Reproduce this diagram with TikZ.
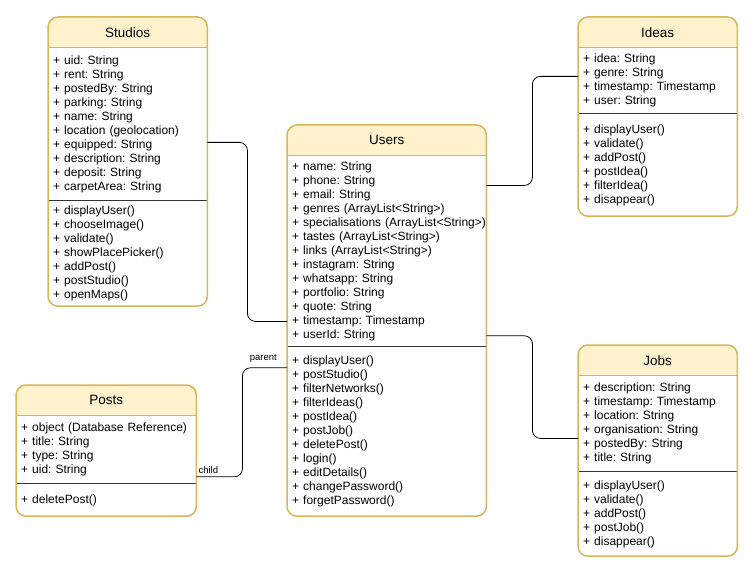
\documentclass[tikz,border=0pt]{standalone}
\usepackage{fontspec}
\setmainfont{Liberation Sans}
\usetikzlibrary{positioning, backgrounds}

\definecolor{umlline}{HTML}{D6B656}
\definecolor{umlfill}{HTML}{FFF2CC}

\begin{document}
\frenchspacing
\begin{tikzpicture}[
    x=1pt, y=-1pt,
    classhead/.style={rectangle, inner sep=0pt, minimum height=30pt,
                      font=\fontsize{13.5}{16}\selectfont},
    classbody/.style={rectangle, fill=white, align=left, inner xsep=5pt, inner ysep=0pt,
                      font=\fontsize{12}{14}\selectfont},
    frame/.style={draw=umlline, line width=1.5pt, rounded corners=10pt},
    headline/.style={draw=umlline, line width=1pt},
    sepline/.style={draw=black!80, line width=0.8pt},
    link/.style={draw=black, line width=0.8pt, rounded corners=8pt},
    rolelabel/.style={font=\fontsize{9.5}{11}\selectfont, inner sep=1pt, fill=white},
]
\useasboundingbox (0,0) rectangle (754,572);

% Studios
\node[classhead, minimum width=159pt, anchor=north west] (studiosH) at (48,17) {Studios};
\node[classbody, text width=149pt, minimum height=153pt, below=0pt of studiosH] (studiosA)
    {+ uid: String\\+ rent: String\\+ postedBy: String\\+ parking: String\\+ name: String\\
     + location (geolocation)\\+ equipped: String\\+ description: String\\+ deposit: String\\
     + carpetArea: String};
\node[classbody, text width=149pt, minimum height=105pt, below=0pt of studiosA] (studiosM)
    {+ displayUser()\\+ chooseImage()\\+ validate()\\+ showPlacePicker()\\+ addPost()\\
     + postStudio()\\+ openMaps()};

% Users
\node[classhead, minimum width=199pt, anchor=north west] (usersH) at (287,125) {Users};
\node[classbody, text width=189pt, minimum height=191pt, below=0pt of usersH] (usersA)
    {+ name: String\\+ phone: String\\+ email: String\\+ genres (ArrayList<String>)\\
     \mbox{+ specialisations (ArrayList<String>)}\\+ tastes (ArrayList<String>)\\
     + links (ArrayList<String>)\\+ instagram: String\\+ whatsapp: String\\
     + portfolio: String\\+ quote: String\\+ timestamp: Timestamp\\+ userId: String};
\node[classbody, text width=189pt, minimum height=169pt, below=0pt of usersA] (usersM)
    {+ displayUser()\\+ postStudio()\\+ filterNetworks()\\+ filterIdeas()\\+ postIdea()\\
     + postJob()\\+ deletePost()\\+ login()\\+ editDetails()\\+ changePassword()\\
     + forgetPassword()};

% Ideas
\node[classhead, minimum width=159pt, anchor=north west] (ideasH) at (578,17) {Ideas};
\node[classbody, text width=149pt, minimum height=66pt, below=0pt of ideasH] (ideasA)
    {+ idea: String\\+ genre: String\\+ timestamp: Timestamp\\+ user: String};
\node[classbody, text width=149pt, minimum height=102pt, below=0pt of ideasA] (ideasM)
    {+ displayUser()\\+ validate()\\+ addPost()\\+ postIdea()\\+ filterIdea()\\+ disappear()};

% Jobs
\node[classhead, minimum width=159pt, anchor=north west] (jobsH) at (578,345) {Jobs};
\node[classbody, text width=149pt, minimum height=96pt, below=0pt of jobsH] (jobsA)
    {+ description: String\\+ timestamp: Timestamp\\+ location: String\\
     + organisation: String\\+ postedBy: String\\+ title: String};
\node[classbody, text width=149pt, minimum height=84pt, below=0pt of jobsA] (jobsM)
    {+ displayUser()\\+ validate()\\+ addPost()\\+ postJob()\\+ disappear()};

% Posts
\node[classhead, minimum width=180pt, anchor=north west] (postsH) at (16,385) {Posts};
\node[classbody, text width=170pt, minimum height=68pt, below=0pt of postsH] (postsA)
    {+ object (Database Reference)\\+ title: String\\+ type: String\\+ uid: String};
\node[classbody, text width=170pt, minimum height=32pt, below=0pt of postsA] (postsM)
    {+ deletePost()};

% class frames
\foreach \c in {studios, users, ideas, jobs, posts} {
  \begin{scope}[on background layer]
    \fill[umlfill, rounded corners=10pt] (\c H.north west) rectangle (\c M.south east);
  \end{scope}
  \draw[headline] (\c H.south west) -- (\c H.south east);
  \draw[sepline] (\c A.south west) -- (\c A.south east);
  \draw[frame] (\c H.north west) rectangle (\c M.south east);
}

% associations
\draw[link] ([yshift=-95pt]studiosA.north east) -- ++(40,0) |- ([yshift=-166pt]usersA.north west);
\draw[link] ([yshift=-30pt]usersA.north east) -- ++(46,0) |- ([yshift=-29pt]ideasA.north west);
\draw[link] ([yshift=11pt]usersA.south east) -- ++(46,0) |- ([yshift=-63pt]jobsA.north west);
\draw[link] ([yshift=7pt]postsA.south east) -- ++(46,0) |- ([yshift=-21pt]usersM.north west);

\node[rolelabel, anchor=south east] (parentL) at ([xshift=-9pt, yshift=-17pt]usersM.north west) {parent};
\node[rolelabel, anchor=south west] (childL) at ([xshift=1pt, yshift=9pt]postsA.south east) {child};
\end{tikzpicture}
\end{document}
